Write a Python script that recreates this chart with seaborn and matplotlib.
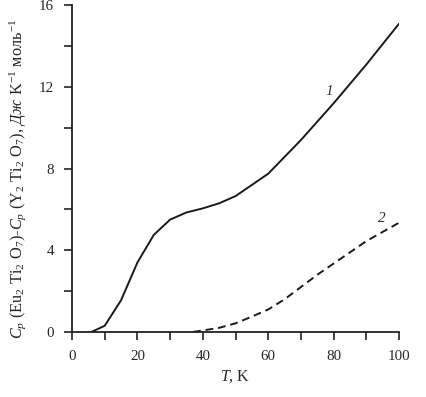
import pandas as pd
import seaborn as sns
import matplotlib.pyplot as plt

# данные кривой 1 (сплошная) и кривой 2 (пунктир)
t1 = [6, 10, 15, 20, 25, 30, 35, 40, 45, 50, 60, 70, 80, 90, 100]
c1 = [0, 0.3, 1.55, 3.4, 4.75, 5.5, 5.85, 6.05, 6.3, 6.65, 7.75, 9.4, 11.2, 13.1, 15.1]
t2 = [37, 40, 45, 50, 55, 60, 65, 70, 75, 80, 85, 90, 95, 100]
c2 = [0, 0.07, 0.2, 0.42, 0.75, 1.1, 1.6, 2.2, 2.8, 3.35, 3.9, 4.45, 4.9, 5.35]

sns.set_style("ticks")
plt.rcParams['font.family'] = ['Liberation Serif', 'DejaVu Serif']
plt.rcParams['mathtext.fontset'] = 'custom'
plt.rcParams['mathtext.rm'] = 'Liberation Serif'
plt.rcParams['mathtext.it'] = 'Liberation Serif:italic'

df1 = pd.DataFrame({'T': t1, 'C': c1})
df2 = pd.DataFrame({'T': t2, 'C': c2})

fig = plt.figure(figsize=(4.26, 3.97), dpi=100)
ax = fig.add_axes([0.169, 0.164, 0.768, 0.823])

sns.lineplot(x='T', y='C', data=df1, ax=ax, color='#1a1a1a', linewidth=1.4)
sns.lineplot(x='T', y='C', data=df2, ax=ax, color='#1a1a1a', linewidth=1.4,
             linestyle=(0, (4, 2.5)))

ax.text(77.4, 11.6, '1', fontsize=11, style='italic', color='#333333')
ax.text(93.6, 5.4, '2', fontsize=11, style='italic', color='#333333')

ax.set_xlim(0, 100)
ax.set_ylim(0, 16)
ax.set_xticks([0, 20, 40, 60, 80, 100])
ax.set_xticks([10, 30, 50, 70, 90], minor=True)
ax.set_yticks([0, 4, 8, 12, 16])
ax.set_yticks([2, 6, 10, 14], minor=True)
ax.tick_params(which='both', direction='out', length=6, width=1.2, labelsize=10.8,
               color='#222222', pad=7)

sns.despine(ax=ax)
for s in ['left', 'bottom']:
    ax.spines[s].set_linewidth(1.3)
    ax.spines[s].set_color('#222222')

ax.set_xlabel('$T$, K', fontsize=11.5, labelpad=4)
ax.set_ylabel('$C_p$ (Eu$_2$ Ti$_2$ O$_7$)-$C_p$ (Y$_2$ Ti$_2$ O$_7$), $\\mathit{Дж}$ K$^{-1}$ моль$^{-1}$',
              fontsize=11.8)
ax.yaxis.set_label_coords(-0.135, 0.47)

plt.savefig('out.png', dpi=100)
